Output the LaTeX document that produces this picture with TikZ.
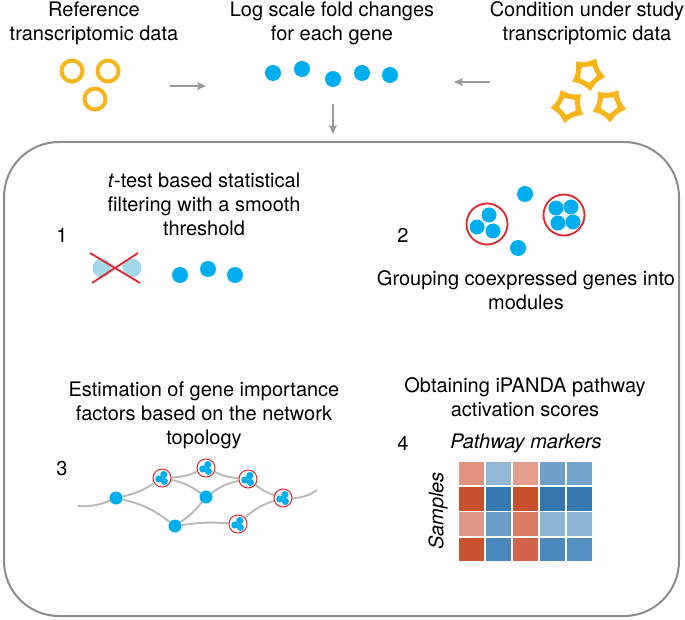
\documentclass[tikz,border=0pt]{standalone}
\usepackage{fontspec}
\setmainfont{TeX Gyre Heros}
\usetikzlibrary{arrows.meta,backgrounds}
\definecolor{cy}{HTML}{00AEEF}
\definecolor{lcy}{HTML}{A3D8EA}
\definecolor{yel}{HTML}{F7B51C}
\definecolor{rd}{HTML}{E0262C}
\definecolor{arr}{HTML}{999999}
\definecolor{frm}{HTML}{8C8C8C}
\definecolor{edg}{HTML}{BBBBBB}
\definecolor{hA}{HTML}{E2937F}\definecolor{hB}{HTML}{91B7D4}\definecolor{hC}{HTML}{E29D8C}\definecolor{hD}{HTML}{70A0C8}\definecolor{hE}{HTML}{73A3CB}
\definecolor{hF}{HTML}{C8502D}\definecolor{hG}{HTML}{3579AE}\definecolor{hH}{HTML}{C8502D}\definecolor{hI}{HTML}{3577AC}\definecolor{hJ}{HTML}{3779AE}
\definecolor{hK}{HTML}{E0978A}\definecolor{hL}{HTML}{6A9DC8}\definecolor{hM}{HTML}{DB7B63}\definecolor{hN}{HTML}{8EB4D3}\definecolor{hO}{HTML}{8DB4D4}
\definecolor{hP}{HTML}{C9532F}\definecolor{hQ}{HTML}{4A87BD}\definecolor{hR}{HTML}{D2644A}\definecolor{hS}{HTML}{4D88BD}\definecolor{hT}{HTML}{5590C3}
\tikzset{
  txt/.style={align=center,inner sep=0pt,font=\fontsize{20}{24}\selectfont},
  num/.style={inner sep=0pt,font=\fontsize{20}{24}\selectfont},
  bdot/.style={circle,fill=cy,inner sep=0pt,minimum size=16pt},
  sdot/.style={circle,fill=cy,inner sep=0pt,minimum size=15pt},
  ldot/.style={circle,fill=lcy,inner sep=0pt,minimum size=19pt},
  ndot/.style={circle,fill=cy,inner sep=0pt,minimum size=13pt},
  ring/.style={circle,draw=yel,line width=4pt,inner sep=0pt,minimum size=21pt},
  clus/.style={circle,draw=rd,line width=1.8pt,inner sep=0pt,minimum size=41pt},
  nring/.style={circle,draw=rd,line width=1pt,fill=white,inner sep=0pt,minimum size=18pt},
  garrow/.style={draw=arr,line width=2pt,-{Stealth[length=9pt,width=8pt,inset=2pt]}},
  edge/.style={draw=edg,line width=2pt},
  cross/.style={draw=rd,line width=1.8pt},
  cell/.style={inner sep=0pt,minimum width=25.5pt,minimum height=23.5pt},
  pent/.pic={
    \fill[yel,even odd rule] (90:17.5) .. controls (126:11.5) .. (162:17.5) .. controls (198:11.5) .. (234:17.5) .. controls (270:11.5) .. (306:17.5) .. controls (342:11.5) .. (18:17.5) .. controls (54:11.5) .. (90:17.5) -- cycle
      (90:9) -- (162:9) -- (234:9) -- (306:9) -- (18:9) -- cycle;
  }
}
\begin{document}
\begin{tikzpicture}[x=1pt,y=-1pt]
\useasboundingbox (0,0) rectangle (685,620);
% top texts
\node[txt] (tref) at (94,23) {Reference\\transcriptomic data};
\node[txt] (tlog) at (332,23) {Log scale fold changes\\for each gene};
\node[txt] (tcond) at (587,23) {Condition under study\\transcriptomic data};
% rings
\node[ring] (r1) at (72,71) {};
\node[ring] (r2) at (108,71) {};
\node[ring] (r3) at (95,99) {};
% blue dots
\node[bdot] (d1) at (273,73) {};
\node[bdot] (d2) at (302,69) {};
\node[bdot] (d3) at (333,79) {};
\node[bdot] (d4) at (362,73) {};
\node[bdot] (d5) at (390,75) {};
% pentagons
\pic[rotate=8] (p1) at (588,74) {pent};
\pic[rotate=-12] (p2) at (568,106) {pent};
\pic[rotate=4] (p3) at (609,105) {pent};
% arrows
\coordinate (a1s) at (170,86); \coordinate (a1e) at (206,86);
\coordinate (a2s) at (490,82); \coordinate (a2e) at (454,82);
\coordinate (a3s) at (333,104); \coordinate (a3e) at (333,134);
\draw[garrow] (a1s) -- (a1e);
\draw[garrow] (a2s) -- (a2e);
\draw[garrow] (a3s) -- (a3e);
% frame
\draw[frm,line width=2pt,rounded corners=55pt] (4,142) rectangle (679,616);
% panel 1
\node[txt] (t1) at (204,204) {\textit{t}-test based statistical\\filtering with a smooth\\threshold};
\node[num] (n1) at (62,235) {1};
\node[ldot] (x1) at (102,268) {};
\node[ldot] (x2) at (132,268) {};
\coordinate (c1a) at (90,253); \coordinate (c1b) at (140,283);
\coordinate (c2a) at (138,253); \coordinate (c2b) at (92,283);
\draw[cross] (c1a) -- (c1b);
\draw[cross] (c2a) -- (c2b);
\node[bdot] (f1) at (180,275) {};
\node[bdot] (f2) at (208,269) {};
\node[bdot] (f3) at (235,275) {};
% panel 2
\node[num] (n2) at (403,235) {2};
\node[clus] (cl1) at (487,224) {};
\node[sdot] (g1) at (489,215) {};
\node[sdot] (g2) at (477,227) {};
\node[sdot] (g3) at (493,231) {};
\node[clus] (cl2) at (564,215) {};
\node[sdot] (h1) at (556,208) {};
\node[sdot] (h2) at (571,207) {};
\node[sdot] (h3) at (558,223) {};
\node[sdot] (h4) at (573,222) {};
\node[bdot] (s1) at (525,194) {};
\node[bdot] (s2) at (518,248) {};
\node[txt] (t2) at (526,290) {Grouping coexpressed genes into\\modules};
% panel 3
\node[txt] (t3) at (204,415) {Estimation of gene importance\\factors based on the network\\topology};
\node[num] (n3) at (62,469) {3};
\coordinate (lend) at (78,506);
\coordinate (rend) at (317,490);
\node[ndot] (A) at (116,498) {};
\node[ndot] (B) at (206,497) {};
\node[ndot] (C) at (175,526) {};
\node[nring] (R1) at (162,478) {};
\node[nring] (R2) at (206,468) {};
\node[nring] (R3) at (248,479) {};
\node[nring] (R4) at (283,498) {};
\node[nring] (R5) at (238,524) {};
\foreach \r in {R1,R2,R3,R4,R5}{
  \fill[cy] ([shift={(1.8,-3.4)}]\r.center) circle (3.6pt);
  \fill[cy] ([shift={(-3.2,1)}]\r.center) circle (3.6pt);
  \fill[cy] ([shift={(2.4,3.4)}]\r.center) circle (3.6pt);
}
\begin{scope}[on background layer]
\draw[edge] (lend) to[bend right=12] (A);
\draw[edge] (A) to[bend right=10] (R1);
\draw[edge] (R1) to[bend right=10] (R2);
\draw[edge] (R2) to[bend right=10] (R3);
\draw[edge] (R3) to[bend right=10] (R4);
\draw[edge] (R4) to[bend right=15] (rend);
\draw[edge] (R1) to[bend left=12] (B);
\draw[edge] (B) to[bend left=12] (R3);
\draw[edge] (B) to[bend left=8] (C);
\draw[edge] (A) to[bend left=12] (C);
\draw[edge] (C) to[bend left=6] (R5);
\draw[edge] (R5) to[bend left=12] (R4);
\end{scope}
% panel 4
\node[txt] (t4) at (525,397) {Obtaining iPANDA pathway\\activation scores};
\node[num] (n4) at (403,443) {4};
\node[txt,font=\fontsize{20}{24}\selectfont\itshape] (pm) at (526,443) {Pathway markers};
\node[txt,font=\fontsize{20}{24}\selectfont\itshape,rotate=90] (sm) at (438,511) {Samples};
\foreach \row/\cols [count=\i from 0] in {0/{hA,hB,hC,hD,hE},1/{hF,hG,hH,hI,hJ},2/{hK,hL,hM,hN,hO},3/{hP,hQ,hR,hS,hT}}{
  \foreach \c [count=\j from 0] in \cols {
    \node[cell,fill=\c] (hm\i\j) at ({471.5+27*\j},{473.5+25.25*\i}) {};
  }
}
\end{tikzpicture}
\end{document}
